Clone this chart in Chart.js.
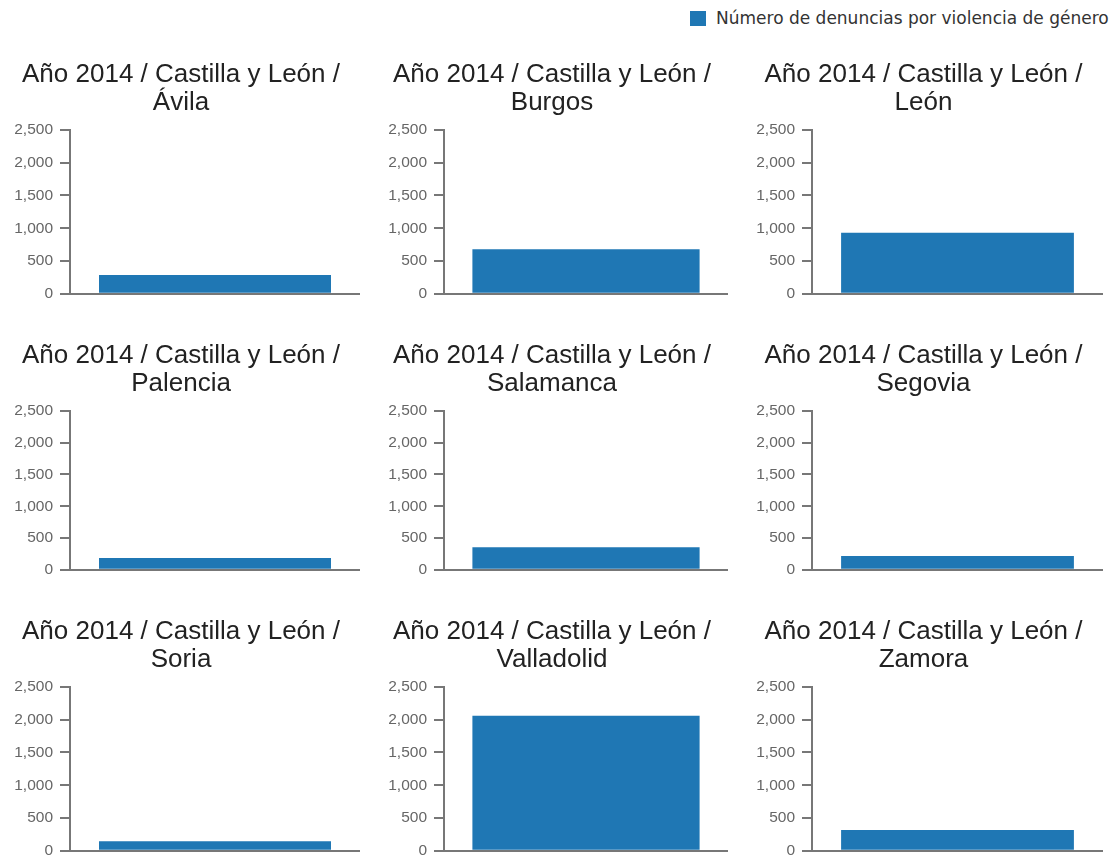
<!DOCTYPE html>
<html>
<head>
<meta charset="utf-8">
<script src="https://cdn.jsdelivr.net/npm/chart.js@4.4.1/dist/chart.umd.min.js"></script>
<style>
  html, body { margin: 0; padding: 0; background: #fff; overflow: hidden; }
  body { width: 1118px; height: 857px; position: relative; }
  .panel { position: absolute; }
  #legend { position: absolute; left: 690px; top: 8px; font-family: "DejaVu Sans", sans-serif; font-size: 17px; color: #333; white-space: nowrap; }
  #legend span.box { display: inline-block; width: 16px; height: 15px; background: #1f77b4; vertical-align: -2px; margin-right: 10px; }
</style>
</head>
<body>
<div id="legend"><span class="box"></span><span id="legendText"></span></div>

<script>
  // data
  var year = "2014";
  var region = "Castilla y León";
  var seriesLabel = "Número de denuncias por violencia de género";
  var provinces = ["Ávila", "Burgos", "León", "Palencia", "Salamanca", "Segovia", "Soria", "Valladolid", "Zamora"];
  var denuncias = [285, 680, 930, 185, 355, 215, 145, 2060, 315];
  var yTicks = [0, 500, 1000, 1500, 2000, 2500];

  // layout of the 3x3 grid
  var colLeft = [2, 376, 744];
  var colWidth = [358, 352, 359];
  var rowTop = [55, 336, 612];
  var rowHeight = [255, 250, 255];
  var barColor = "#1f77b4";
  var axisColor = "#777";

  document.getElementById("legendText").textContent = seriesLabel;

  let charts = [];
  function createPanel(i) {
    let col = i % 3;
    let row = Math.floor(i / 3);
    let div = document.createElement("div");
    div.className = "panel";
    div.style.left = colLeft[col] + "px";
    div.style.top = rowTop[row] + "px";
    div.style.width = colWidth[col] + "px";
    div.style.height = rowHeight[row] + "px";
    let canvas = document.createElement("canvas");
    div.appendChild(canvas);
    document.body.appendChild(div);

    let chart = new Chart(canvas.getContext("2d"), {
      type: "bar",
      data: {
        labels: [provinces[i]],
        datasets: [{
          label: seriesLabel,
          data: [denuncias[i]],
          backgroundColor: barColor,
          borderWidth: 0,
          barPercentage: 0.8,
          categoryPercentage: 1.0
        }]
      },
      options: {
        responsive: true,
        maintainAspectRatio: false,
        animation: false,
        locale: "en-US",
        layout: { padding: 0 },
        plugins: {
          legend: { display: false },
          tooltip: { enabled: false },
          title: {
            display: true,
            text: ["Año " + year + " / " + region + " /", provinces[i]],
            color: "#222",
            font: { family: "'Liberation Sans', Arial, sans-serif", size: 26, weight: "normal", lineHeight: 28 / 26 },
            padding: { top: 6, bottom: 13 }
          }
        },
        scales: {
          x: {
            ticks: { display: false },
            grid: { display: false },
            border: { display: true, color: axisColor, width: 2 }
          },
          y: {
            min: yTicks[0],
            max: yTicks[yTicks.length - 1],
            afterFit: function (scale) { scale.width = 68; },
            afterBuildTicks: function (scale) {
              scale.ticks = yTicks.map(function (v) { return { value: v }; });
            },
            ticks: {
              color: "#666",
              padding: 7,
              font: { family: "'Liberation Sans', Arial, sans-serif", size: 15.5 },
              callback: function (value) { return Number(value).toLocaleString("en-US"); }
            },
            grid: { display: true, drawOnChartArea: false, drawTicks: true, tickLength: 10, color: axisColor, lineWidth: 2 },
            border: { display: true, color: axisColor, width: 2 }
          }
        }
      }
    });
    charts.push(chart);
  }

  for (let i = 0; i < provinces.length; i++) {
    createPanel(i);
  }
</script>
</body>
</html>
